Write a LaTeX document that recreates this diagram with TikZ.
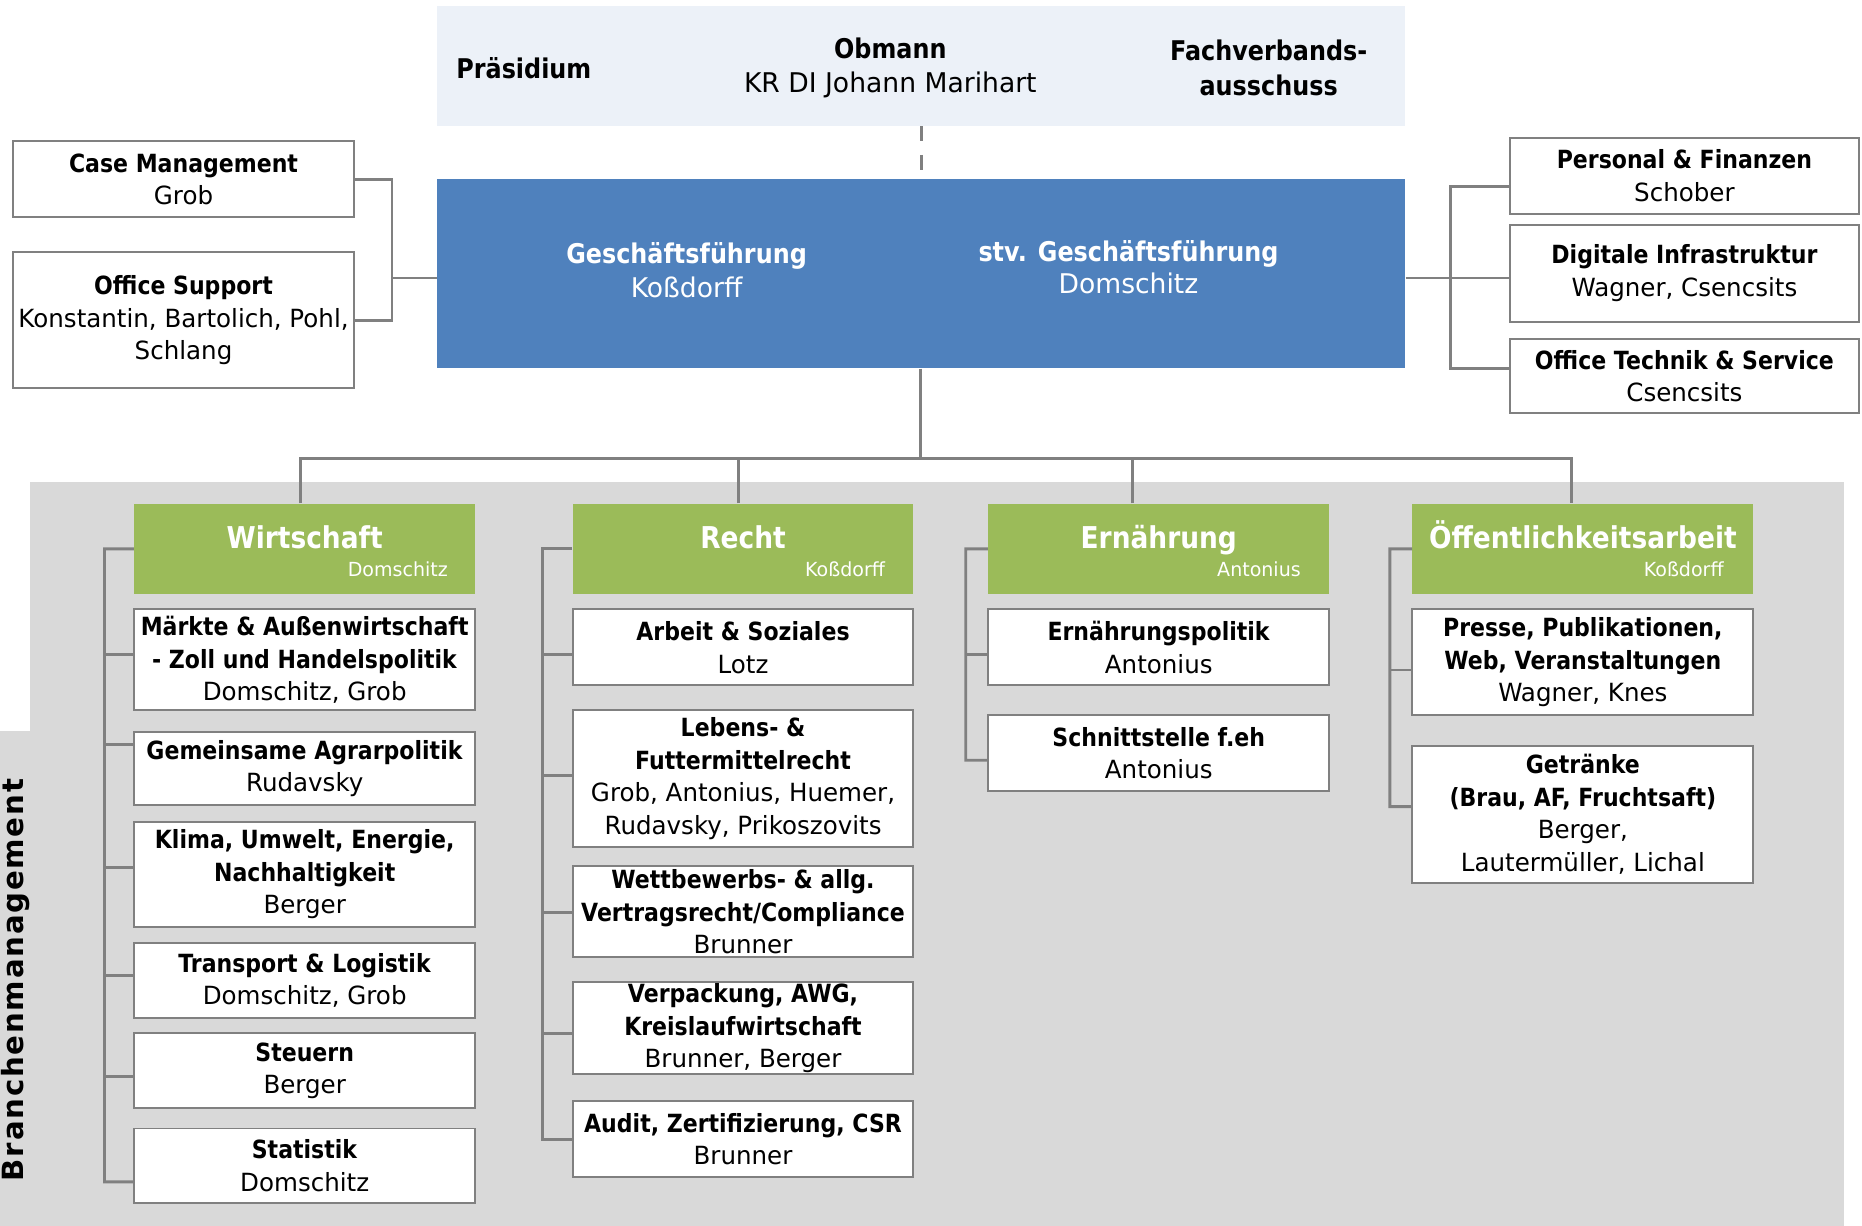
\documentclass[tikz,border=0pt]{standalone}
\usepackage{fontspec}
\setmainfont{DejaVu Sans}[FakeStretch=0.98, BoldFeatures={FakeStretch=0.88}]
\newfontfamily\sidefont{DejaVu Sans}[LetterSpace=6]
\usepackage{tikz}
\usetikzlibrary{positioning}
\definecolor{topbg}{RGB}{236,241,248}
\definecolor{gfblue}{RGB}{79,129,189}
\definecolor{deptgreen}{RGB}{155,187,89}
\definecolor{areabg}{RGB}{217,217,217}
\definecolor{linegray}{RGB}{128,128,128}
\newcommand{\bodyfont}{\fontsize{12}{15.6}\selectfont}

\begin{document}
\begin{tikzpicture}[x=0.02cm, y=-0.02cm,
    unitbox/.style={rectangle, draw=linegray, line width=0.95pt, fill=white, minimum width=5.74cm, inner sep=0pt, align=center, font=\bodyfont},
    widebox/.style={unitbox, minimum width=5.88cm},
    hgt/.style={minimum height=#1*0.02cm},
    head/.style={rectangle, fill=deptgreen, minimum width=5.74cm, minimum height=1.52cm, inner sep=0pt},
    headtitle/.style={text=white, font=\fontsize{14.4}{17}\selectfont\bfseries, inner sep=0pt, anchor=base},
    headsub/.style={text=white, font=\fontsize{9.3}{11}\selectfont, inner sep=0pt, anchor=base east},
    toptext/.style={align=center, inner sep=0pt, font=\fontsize{13}{16.5}\selectfont},
    link/.style={draw=linegray, line width=1.4pt}
]
\useasboundingbox (0,0) rectangle (1567.5,1032);
\fill[white] (0,0) rectangle (1567.5,1032);

% background of the branch area
\fill[areabg] (25,406) rectangle (1552,1032);
\fill[areabg] (0,615) rectangle (25,1032);
\node[rotate=90, anchor=base, inner sep=0pt, font=\sidefont\fontsize{14}{16}\selectfont\bfseries] (branchen) at (19.5,825) {Branchenmanagement};

% board and management
\node[rectangle, fill=topbg, minimum width=16.3cm, minimum height=2.02cm, inner sep=0pt] (board) at (775.5,55.5) {};
\node[toptext] (praes) at (441,57) {\bfseries Präsidium};
\node[toptext] (obmann) at (749.5,57) {\bfseries Obmann\\KR DI Johann Marihart};
\node[toptext] (fvaus) at (1068,57) {\bfseries Fachverbands-\\\bfseries ausschuss};

\node[rectangle, fill=gfblue, minimum width=16.3cm, minimum height=3.18cm, inner sep=0pt] (gf) at (775.5,230.5) {};
\node[toptext, text=white] (gfmain) at (578,227.5) {\bfseries Geschäftsführung\\Koßdorff};
\node[toptext, text=white, font=\fontsize{13}{15}\selectfont] (gfdep) at (950,225) {\bfseries stv. Geschäftsführung\\Domschitz};

\draw[link, dash pattern=on 0.25cm off 0.23cm] (board.south) -- (gf.north);

% staff units left
\node[unitbox, hgt=64] (case) at (154.5,151) {\textbf{Case Management}\\Grob};
\node[unitbox, hgt=115] (support) at (154.5,269.5) {\textbf{Office Support}\\Konstantin, Bartolich, Pohl,\\Schlang};
\coordinate (lbar) at (330,234);
\draw[link] (case.east) -| (lbar) |- (support.east);
\draw[link] (lbar) -- (gf.west |- lbar);

% staff units right
\node[widebox, hgt=64] (persfin) at (1418,148) {\textbf{Personal \& Finanzen}\\Schober};
\node[widebox, hgt=82] (digi) at (1418,230) {\textbf{Digitale Infrastruktur}\\Wagner, Csencsits};
\node[widebox, hgt=63] (otech) at (1418,316.5) {\textbf{Office Technik \& Service}\\Csencsits};
\coordinate (rbar) at (1221,234);
\draw[link] (gf.east |- rbar) -- (digi.west |- rbar);
\draw[link] ([yshift=-0.18cm]persfin.west) -| (rbar) |- ([yshift=0.13cm]otech.west);

% departments
\node[head] (wirt) at (256.5,462) {};
\node[head] (recht) at (625.5,462) {};
\node[head] (ern) at (975.5,462) {};
\node[head] (oeff) at (1332.5,462) {};
\node[headtitle] (wirtT) at (wirt.center) {Wirtschaft};
\node[headtitle] (rechtT) at (recht.center) {Recht};
\node[headtitle] (ernT) at (ern.center) {Ernährung};
\node[headtitle] (oeffT) at (oeff.center) {Öffentlichkeitsarbeit};
\node[headsub] (wirtS) at ([xshift=-0.46cm, yshift=-0.47cm]wirt.east) {Domschitz};
\node[headsub] (rechtS) at ([xshift=-0.48cm, yshift=-0.47cm]recht.east) {Koßdorff};
\node[headsub] (ernS) at ([xshift=-0.48cm, yshift=-0.47cm]ern.east) {Antonius};
\node[headsub] (oeffS) at ([xshift=-0.5cm, yshift=-0.47cm]oeff.east) {Koßdorff};

\coordinate (hub) at (775,386);
\coordinate (dW) at ([xshift=-0.07cm]wirt.north);
\coordinate (dR) at ([xshift=-0.07cm]recht.north);
\coordinate (dE) at ([xshift=-0.44cm]ern.north);
\coordinate (dO) at ([xshift=-0.19cm]oeff.north);
\draw[link] (gf.south -| hub) -- (hub);
\draw[link] (dW) -- (dW |- hub) -- (dO |- hub) -- (dO);
\draw[link] (dR) -- (dR |- hub);
\draw[link] (dE) -- (dE |- hub);

% Wirtschaft
\node[unitbox, hgt=85] (w1) at (256.5,555.5) {\textbf{Märkte \& Außenwirtschaft}\\\textbf{- Zoll und Handelspolitik}\\Domschitz, Grob};
\node[unitbox, hgt=62] (w2) at (256.5,647) {\textbf{Gemeinsame Agrarpolitik}\\Rudavsky};
\node[unitbox, hgt=88] (w3) at (256.5,736) {\textbf{Klima, Umwelt, Energie,}\\\textbf{Nachhaltigkeit}\\Berger};
\node[unitbox, hgt=63] (w4) at (256.5,825.5) {\textbf{Transport \& Logistik}\\Domschitz, Grob};
\node[unitbox, hgt=63] (w5) at (256.5,901.5) {\textbf{Steuern}\\Berger};
\node[unitbox, hgt=63] (w6) at (256.5,981.5) {\textbf{Statistik}\\Domschitz};
\coordinate (wbar) at (88,995);
\draw[link] (wirt.west) -| (wbar) -- ([yshift=-0.27cm]w6.west);
\foreach \n/\up in {w1/4.5, w2/20, w3/6, w4/4.5, w5/-4.5}
  \draw[link] ([yshift=\up*0.02cm]\n.west) -- ([yshift=\up*0.02cm]\n.west -| wbar);

% Recht
\node[unitbox, hgt=64] (r1) at (625.5,545) {\textbf{Arbeit \& Soziales}\\Lotz};
\node[unitbox, hgt=115] (r2) at (625.5,655.5) {\textbf{Lebens- \&}\\\textbf{Futtermittelrecht}\\Grob, Antonius, Huemer,\\Rudavsky, Prikoszovits};
\node[unitbox, hgt=77] (r3) at (625.5,767.5) {\textbf{Wettbewerbs- \& allg.}\\\textbf{Vertragsrecht/Compliance}\\Brunner};
\node[unitbox, hgt=77] (r4) at (625.5,865.5) {\textbf{Verpackung, AWG,}\\\textbf{Kreislaufwirtschaft}\\Brunner, Berger};
\node[unitbox, hgt=64] (r5) at (625.5,959) {\textbf{Audit, Zertifizierung, CSR}\\Brunner};
\coordinate (rchbar) at (457,959);
\draw[link] (recht.west) -| (rchbar) -- (r5.west);
\foreach \n/\up in {r1/-6, r2/2.5, r3/-0.5, r4/-4.5}
  \draw[link] ([yshift=\up*0.02cm]\n.west) -- ([yshift=\up*0.02cm]\n.west -| rchbar);

% Ernaehrung
\node[unitbox, hgt=64] (e1) at (975.5,545) {\textbf{Ernährungspolitik}\\Antonius};
\node[unitbox, hgt=64] (e2) at (975.5,634) {\textbf{Schnittstelle f.eh}\\Antonius};
\coordinate (ebar) at (813,640);
\draw[link] (ern.west) -| (ebar) -- ([yshift=-0.12cm]e2.west);
\draw[link] ([yshift=-0.12cm]e1.west) -- ([yshift=-0.12cm]e1.west -| ebar);

% Oeffentlichkeitsarbeit
\node[unitbox, hgt=89] (o1) at (1332.5,557.5) {\textbf{Presse, Publikationen,}\\\textbf{Web, Veranstaltungen}\\Wagner, Knes};
\node[unitbox, hgt=115] (o2) at (1332.5,685.5) {\textbf{Getränke}\\\textbf{(Brau, AF, Fruchtsaft)}\\Berger,\\Lautermüller, Lichal};
\coordinate (obar) at (1170,679);
\draw[link] (oeff.west) -| (obar) -- ([yshift=0.13cm]o2.west);
\draw[link] ([yshift=-0.13cm]o1.west) -- ([yshift=-0.13cm]o1.west -| obar);

\end{tikzpicture}
\end{document}
